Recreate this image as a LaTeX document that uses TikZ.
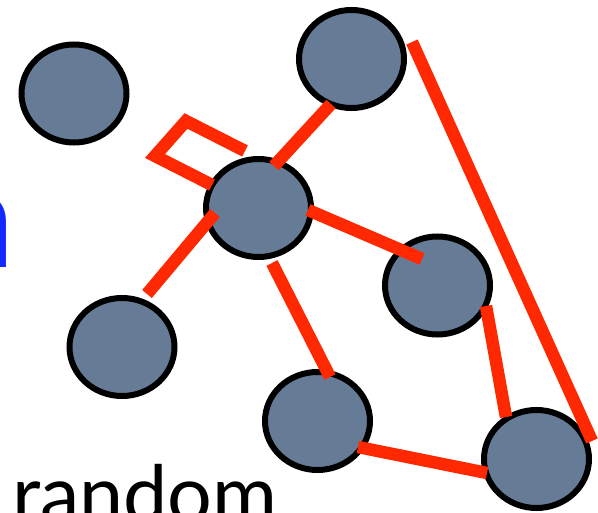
\documentclass[tikz,border=0pt]{standalone}
\usepackage{fontspec}
\setmainfont{Lato}
\usetikzlibrary{shapes.geometric}
\definecolor{nodefill}{RGB}{101,123,150}
\definecolor{edgered}{RGB}{255,40,0}
\definecolor{titleblue}{RGB}{18,40,255}
\begin{document}
\begin{tikzpicture}[x=1pt,y=-1pt,
  vertex/.style={ellipse, draw=black, line width=6pt, fill=nodefill,
    minimum width=105pt, minimum height=98pt, inner sep=0pt},
  link/.style={draw=edgered, line width=12.5pt, line cap=butt, line join=miter}]
\useasboundingbox (0,0) rectangle (598,513);

% captions
\node[anchor=base east, inner sep=0pt, text=titleblue,
  font=\fontsize{140}{140}\selectfont] (head) at (16,268) {n};
\node[anchor=base west, inner sep=0pt,
  font=\fontsize{79}{79}\selectfont] (word) at (12,522) {random};

% vertices
\node[vertex] (v1) at (74,93.5) {};
\node[vertex] (v2) at (351.5,59) {};
\node[vertex] (v3) at (258.5,208) {};
\node[vertex] (v4) at (437.5,285.5) {};
\node[vertex] (v5) at (122,347) {};
\node[vertex] (v6) at (317.5,421) {};
\node[vertex] (v7) at (536.5,459) {};

% edge end points
\coordinate (a32) at (274,166);
\coordinate (b32) at (331,104);
\coordinate (a35) at (215,213);
\coordinate (b35) at (147,294);
\coordinate (a34) at (308,210);
\coordinate (b34) at (422,259);
\coordinate (a36) at (272,263);
\coordinate (b36) at (330,377);
\coordinate (a27) at (412,42);
\coordinate (b27) at (592,441);
\coordinate (a47) at (486,306);
\coordinate (b47) at (506,417);
\coordinate (a67) at (358,447);
\coordinate (b67) at (487,473);
\coordinate (l0) at (245,151);
\coordinate (l1) at (186,121);
\coordinate (l2) at (155,156);
\coordinate (l3) at (212,185);

% edges
\draw[link] (a32) -- (b32);
\draw[link] (a35) -- (b35);
\draw[link] (a34) -- (b34);
\draw[link] (a36) -- (b36);
\draw[link] (a27) -- (b27);
\draw[link] (a47) -- (b47);
\draw[link] (a67) -- (b67);
\draw[link] (l0) -- (l1) -- (l2) -- (l3);
\end{tikzpicture}
\end{document}
